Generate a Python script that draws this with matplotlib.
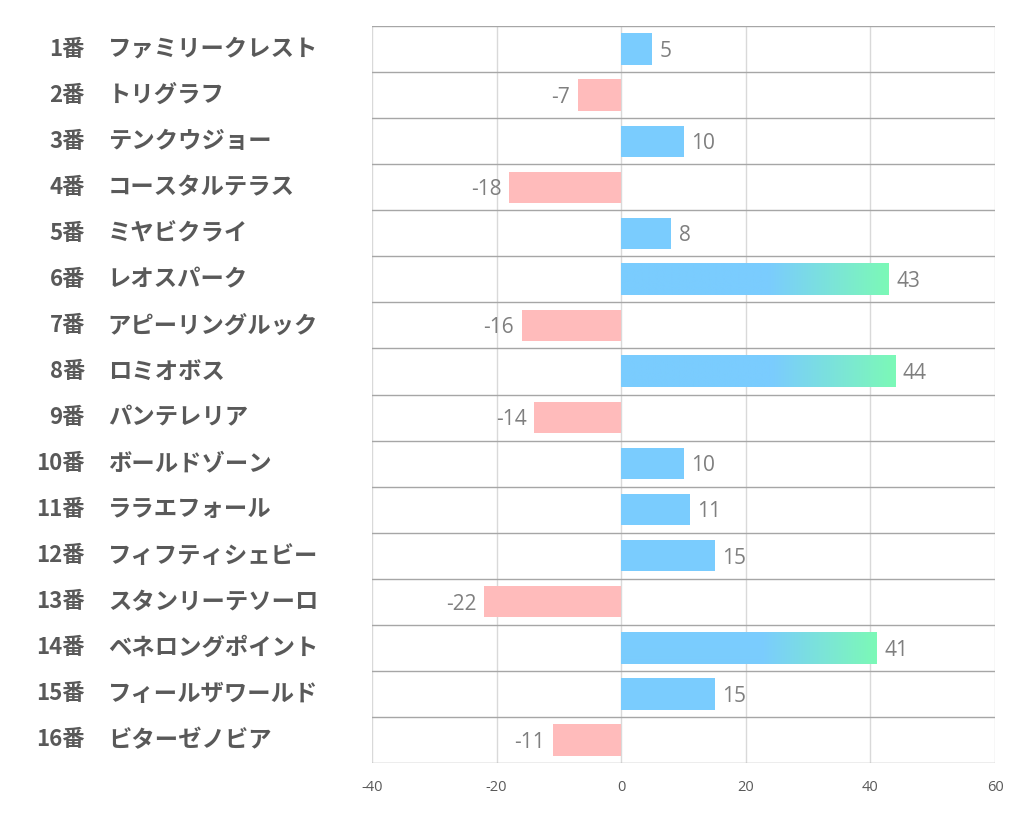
import numpy as np
import matplotlib.pyplot as plt
from matplotlib.colors import LinearSegmentedColormap

plt.rcParams['font.family'] = ['Noto Sans CJK JP', 'DejaVu Sans']

numbers = ['1番', '2番', '3番', '4番', '5番', '6番', '7番', '8番',
           '9番', '10番', '11番', '12番', '13番', '14番', '15番', '16番']
names = ['ファミリークレスト', 'トリグラフ', 'テンクウジョー', 'コースタルテラス',
         'ミヤビクライ', 'レオスパーク', 'アピーリングルック', 'ロミオボス',
         'パンテレリア', 'ボールドゾーン', 'ララエフォール', 'フィフティシェビー',
         'スタンリーテソーロ', 'ベネロングポイント', 'フィールザワールド', 'ビターゼノビア']
values = [5, -7, 10, -18, 8, 43, -16, 44, -14, 10, 11, 15, -22, 41, 15, -11]
xticks = [-40, -20, 0, 20, 40, 60]

blue = '#7ACCFE'
green = '#7CF9B7'
pink = '#FFBBBB'
gcmap = LinearSegmentedColormap.from_list('g', [blue, green])

fig = plt.figure(figsize=(10.22, 8.34), dpi=100)
ax = fig.add_axes([0.364, 0.0851, 0.6096, 0.8837])

n = len(values)
ypos = np.arange(n)
bh = 0.68
ax.set_xlim(-40, 60)
ax.set_ylim(n - 0.5, -0.5)

lbl_font = ['Open Sans', 'DejaVu Sans']
for y, v in zip(ypos, values):
    if v < 0:
        ax.barh(y, v, height=bh, color=pink, zorder=2)
    elif v > 30:
        # gradient fill, plain blue for first ~55% of the bar
        t = np.linspace(0, 1, 256)
        g = np.clip((t - 0.55) / 0.45, 0, 1)
        ax.imshow(g[np.newaxis, :], extent=[0, v, y + bh / 2, y - bh / 2],
                  cmap=gcmap, aspect='auto', zorder=2, interpolation='bilinear')
    else:
        ax.barh(y, v, height=bh, color=blue, zorder=2)
    if v < 0:
        ax.text(v - 1.2, y + 0.05, str(v), ha='right', va='center',
                fontsize=15, color='#7F7F7F', family=lbl_font)
    else:
        ax.text(v + 1.2, y + 0.05, str(v), ha='left', va='center',
                fontsize=15, color='#7F7F7F', family=lbl_font)

ax.set_xlim(-40, 60)
ax.set_ylim(n - 0.5, -0.5)
ax.set_xticks(xticks)
ax.set_xticklabels([str(x) for x in xticks], fontsize=10.5, color='#595959',
                   family=lbl_font)
ax.xaxis.grid(True, color='#D9D9D9', linewidth=1, zorder=0)
ax.set_yticks(np.arange(n + 1) - 0.5, minor=True)
ax.set_yticks([])
ax.yaxis.grid(True, which='minor', color='#A6A6A6', linewidth=1, zorder=1)
ax.tick_params(axis='x', length=0, pad=12)
ax.tick_params(axis='y', which='both', length=0)
for s in ax.spines.values():
    s.set_visible(False)
ax.set_axisbelow(True)

for y, num, name in zip(ypos, numbers, names):
    ax.text(-0.461, y, num, transform=ax.get_yaxis_transform(), ha='right',
            va='center', fontsize=16, fontweight='bold', color='#595959')
    ax.text(-0.424, y, name, transform=ax.get_yaxis_transform(), ha='left',
            va='center', fontsize=16.8, fontweight='bold', color='#595959')

fig.savefig('out.png', dpi=100)
